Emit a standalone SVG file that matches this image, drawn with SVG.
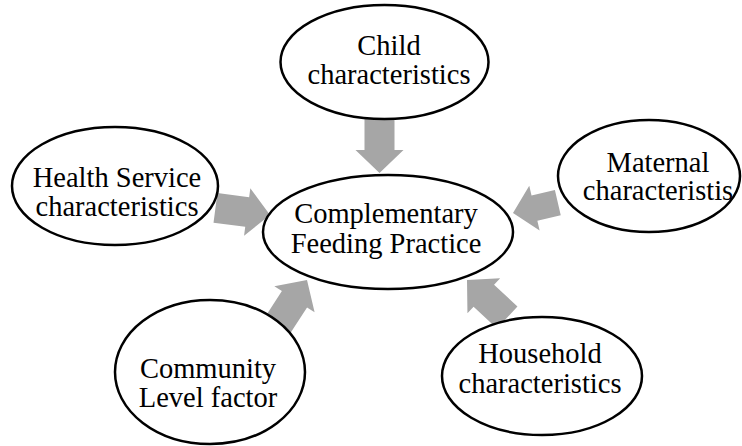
<svg xmlns="http://www.w3.org/2000/svg" xmlns:xlink="http://www.w3.org/1999/xlink" width="742" height="446" viewBox="0 0 742 446">
  <style>
    .node ellipse { fill: #ffffff; stroke: #000000; stroke-width: 2.5; }
    .node text { font-family: 'Liberation Serif', 'DejaVu Serif', serif; font-size: 28.5px; fill: #000000; text-anchor: middle; }
    .arrow { fill: #a6a6a6; stroke: none; }
  </style>
  <defs>
    <!-- block arrow, tip at origin, pointing along +x -->
    <polygon id="blk" points="-55,-15 -23,-15 -23,-24 0,0 -23,24 -23,15 -55,15"/>
    <polygon id="blkShort" points="-46,-13 -22,-13 -22,-23 0,0 -22,23 -22,13 -46,13"/>
  </defs>

  <!-- connectors: block arrows pointing to the central factor -->
  <g id="connectors" class="arrow">
    <use xlink:href="#blk" transform="translate(379.5,173) rotate(90)"/>
    <use xlink:href="#blk" transform="translate(270,215) rotate(7.5)"/>
    <use xlink:href="#blkShort" transform="translate(513,213) rotate(167)"/>
    <use xlink:href="#blk" transform="translate(307,280) rotate(-57)"/>
    <use xlink:href="#blk" transform="translate(467,280) rotate(-137)"/>
  </g>

  <g id="node-child" class="node">
    <ellipse cx="384.5" cy="62" rx="104" ry="57"/>
    <text x="389" y="55">Child</text>
    <text x="389" y="84">characteristics</text>
  </g>

  <g id="node-health" class="node">
    <ellipse cx="115" cy="186" rx="103" ry="59"/>
    <text x="117" y="187">Health Service</text>
    <text x="117" y="216">characteristics</text>
  </g>

  <g id="node-maternal" class="node">
    <ellipse cx="649" cy="176" rx="91" ry="56"/>
    <text x="658" y="172">Maternal</text>
    <text x="658" y="200">characteristis</text>
  </g>

  <g id="node-center" class="node">
    <ellipse cx="388" cy="232" rx="125" ry="57"/>
    <text x="386" y="223">Complementary</text>
    <text x="386" y="253">Feeding Practice</text>
  </g>

  <g id="node-community" class="node">
    <ellipse cx="210" cy="372" rx="95" ry="72"/>
    <text x="208" y="378">Community</text>
    <text x="208" y="407">Level factor</text>
  </g>

  <g id="node-household" class="node">
    <ellipse cx="542" cy="376" rx="100" ry="59"/>
    <text x="540" y="363">Household</text>
    <text x="540" y="393">characteristics</text>
  </g>
</svg>
